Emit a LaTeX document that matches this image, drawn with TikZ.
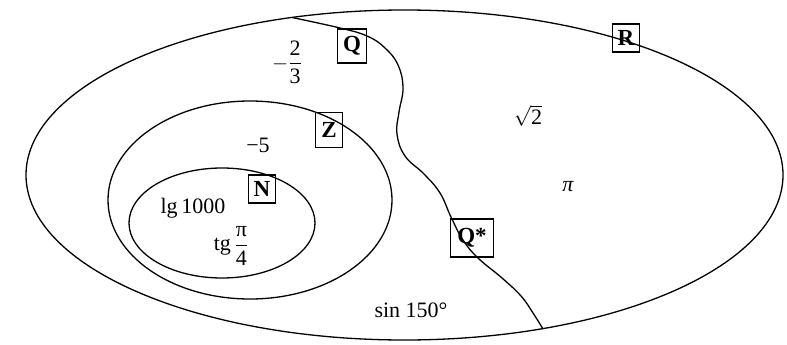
\documentclass[tikz,border=0pt]{standalone}
\usepackage{amsmath}
\usepackage{fontspec}
\setmainfont{Liberation Serif}
\begin{document}
\begin{tikzpicture}[x=1pt,y=-1pt,line width=1.3pt,
  lab/.style={font=\fontsize{22}{26}\selectfont, inner sep=0pt},
  setbox/.style={draw, line width=1.3pt, inner sep=2pt, font=\fontsize{23}{26}\selectfont\bfseries, minimum width=27pt, minimum height=28pt}]
\useasboundingbox (0,0) rectangle (787,345);
% sets
\draw (404.5,175) ellipse [x radius=378.5, y radius=165];
\draw (250,200) ellipse [x radius=142, y radius=99];
\draw (222,223) ellipse [x radius=93, y radius=55];
% boundary between Q and Q*
\coordinate (top) at (292,17.5);
\coordinate (bot) at (543,329);
\draw plot[smooth, tension=0.7] coordinates {(top) (340,28) (367,36) (385,48) (398,65) (403,88) (399,112) (397,134) (405,156) (424,174) (440,193) (451,217) (463,240) (478,258) (502,278) (521,296) (533,313) (bot)};
% labels
\node[setbox, minimum width=29pt, minimum height=34pt] (Q) at (352,46) {Q};
\node[setbox] (R) at (626,38) {R};
\node[setbox, minimum height=35pt] (Z) at (329,130) {Z};
\node[setbox] (N) at (262,189) {N};
\node[setbox, minimum width=43pt, minimum height=38pt] (Qs) at (472,238) {Q*};
% elements
\node[lab] (a) at (287,62) {$-\dfrac{\text{2}}{\text{3}}$};
\node[lab] (b) at (258,145) {−5};
\node[lab] (c) at (193,208) {lg\,1000};
\node[lab] (d) at (231,246) {tg\,$\dfrac{\text{π}}{\text{4}}$};
\node[lab] (e) at (411,310) {sin 150°};
\node[lab] (f) at (528,116) {$\sqrt{\text{2}}$};
\node[lab] (g) at (568,187) {\itshape π};
\end{tikzpicture}
\end{document}
